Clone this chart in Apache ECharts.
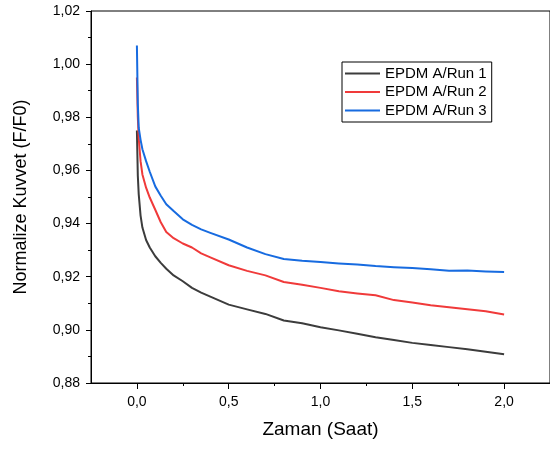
<!DOCTYPE html>
<html>
<head>
<meta charset="utf-8">
<script src="https://cdn.jsdelivr.net/npm/echarts@6/dist/echarts.min.js"></script>
<style>html,body{margin:0;padding:0;background:#fff;}#c{width:550px;height:452px;}</style>
</head>
<body>
<div id="c"></div>
<script>
var seriesNames = ['EPDM A/Run 1', 'EPDM A/Run 2', 'EPDM A/Run 3'];
var time = [0, 0.005, 0.01, 0.02, 0.03, 0.05, 0.07, 0.1, 0.13, 0.16, 0.2, 0.25, 0.3, 0.35, 0.4, 0.5, 0.6, 0.7, 0.8, 0.9, 1.0, 1.1, 1.2, 1.3, 1.4, 1.5, 1.6, 1.7, 1.8, 1.9, 2.0];
var run1 = [0.975, 0.958, 0.951, 0.943, 0.9385, 0.9338, 0.931, 0.9277, 0.9252, 0.923, 0.9205, 0.9183, 0.9158, 0.914, 0.9125, 0.9095, 0.9077, 0.906, 0.9035, 0.9025, 0.901, 0.8998, 0.8985, 0.8972, 0.8962, 0.8951, 0.8943, 0.8935, 0.8927, 0.8918, 0.8908];
var run2 = [0.995, 0.980, 0.972, 0.9635, 0.9585, 0.9535, 0.9498, 0.9452, 0.9405, 0.9368, 0.9345, 0.9325, 0.931, 0.9288, 0.9273, 0.9243, 0.9222, 0.9205, 0.918, 0.917, 0.9158, 0.9145, 0.9137, 0.9130, 0.9112, 0.9103, 0.9093, 0.9085, 0.9078, 0.907, 0.9058];
var run3 = [1.007, 0.985, 0.976, 0.9715, 0.968, 0.9635, 0.9595, 0.954, 0.9505, 0.9473, 0.9447, 0.9416, 0.9395, 0.9378, 0.9365, 0.934, 0.931, 0.9285, 0.9267, 0.926, 0.9255, 0.925, 0.9246, 0.924, 0.9236, 0.9233, 0.9228, 0.9222, 0.9223, 0.922, 0.9218];
var xMajorTicks = [0, 0.5, 1.0, 1.5, 2.0];
var xMinorTicks = [0.25, 0.75, 1.25, 1.75];
var colors = ['#3c3c3c', '#f03a3a', '#176be0'];

function pairs(vals) { return time.map(function (t, i) { return [t, vals[i]]; }); }
function comma(v, d) { return Number(v).toFixed(d).replace('.', ','); }

var FONT = "'Liberation Sans', Arial, sans-serif";
var chart = echarts.init(document.getElementById('c'), null, { renderer: 'canvas' });
chart.setOption({
  animation: false,
  backgroundColor: '#fff',
  grid: { left: 91, top: 11, width: 465, height: 372, show: true, borderColor: '#000', borderWidth: 1, backgroundColor: 'transparent' },
  legend: {
    orient: 'vertical', left: 342, top: 62,
    padding: [4, 5, 4, 3], itemGap: 3.5, itemWidth: 35, itemHeight: 2,
    icon: 'rect',
    borderColor: '#000', borderWidth: 1, backgroundColor: '#fff',
    textStyle: { fontFamily: FONT, fontSize: 15, lineHeight: 15, color: '#000' },
    data: seriesNames
  },
  xAxis: [{
    type: 'value', min: -0.25, max: 2.25, position: 'bottom',
    name: 'Zaman (Saat)', nameLocation: 'middle', nameGap: 37,
    nameTextStyle: { fontFamily: FONT, fontSize: 19, color: '#000' },
    axisLine: { show: true, onZero: false, lineStyle: { color: '#000', width: 1 } },
    axisTick: { show: true, inside: false, length: 6, customValues: xMajorTicks, lineStyle: { color: '#000' } },
    axisLabel: { show: true, customValues: xMajorTicks, margin: 12, fontFamily: FONT, fontSize: 14, color: '#000', formatter: function (v) { return comma(v, 1); } },
    splitLine: { show: false }
  }, {
    type: 'value', min: -0.25, max: 2.25, position: 'bottom',
    axisLine: { show: false, onZero: false },
    axisTick: { show: true, inside: false, length: 3, customValues: xMinorTicks, lineStyle: { color: '#000' } },
    axisLabel: { show: false },
    splitLine: { show: false }
  }],
  yAxis: {
    type: 'value', min: 0.88, max: 1.02, interval: 0.02,
    name: 'Normalize Kuvvet (F/F0)', nameLocation: 'middle', nameGap: 61,
    nameTextStyle: { fontFamily: FONT, fontSize: 18, color: '#000' },
    axisLine: { show: true, onZero: false, lineStyle: { color: '#000', width: 1 } },
    axisTick: { show: true, inside: false, length: 5, lineStyle: { color: '#000' } },
    minorTick: { show: true, splitNumber: 2, length: 3, lineStyle: { color: '#000' } },
    axisLabel: { margin: 11, fontFamily: FONT, fontSize: 14, color: '#000', formatter: function (v) { return comma(v, 2); } },
    splitLine: { show: false }
  },
  series: [run1, run2, run3].map(function (vals, i) {
    return {
      name: seriesNames[i], type: 'line', xAxisIndex: 0, data: pairs(vals),
      symbol: 'none', smooth: false, color: colors[i],
      itemStyle: { color: colors[i] },
      lineStyle: { color: colors[i], width: 2, join: 'round' }
    };
  })
});
</script>
</body>
</html>
